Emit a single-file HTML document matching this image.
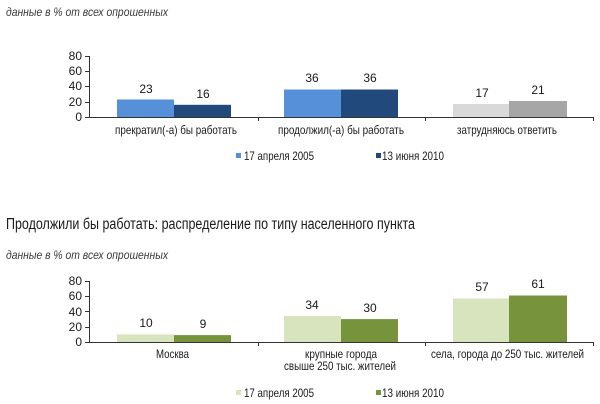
<!DOCTYPE html>
<html><head><meta charset="utf-8"><style>
html,body{margin:0;padding:0;background:#fff;}
svg{display:block;}
text{font-family:"Liberation Sans","DejaVu Sans",sans-serif;fill:#1a1a1a;}
.t{font-size:12px;}
.n{font-size:12px;}
.it{font-size:12px;font-style:italic;fill:#3a3a3a;}
</style></head><body>
<svg width="600" height="404" viewBox="0 0 600 404" xmlns="http://www.w3.org/2000/svg">
<!-- top subtitle -->
<text class="it" x="6" y="16" textLength="162" lengthAdjust="spacingAndGlyphs">данные в % от всех опрошенных</text>

<!-- top chart -->
<text x="82" y="60" text-anchor="end" class="n">80</text>
<text x="82" y="75" text-anchor="end" class="n">60</text>
<text x="82" y="90" text-anchor="end" class="n">40</text>
<text x="82" y="106" text-anchor="end" class="n">20</text>
<text x="82" y="121" text-anchor="end" class="n">0</text>
<g stroke="#333" stroke-width="1">
<line x1="89.5" y1="56" x2="89.5" y2="117"/>
<line x1="85" y1="56.5" x2="89.5" y2="56.5"/>
<line x1="85" y1="71.5" x2="89.5" y2="71.5"/>
<line x1="85" y1="86.5" x2="89.5" y2="86.5"/>
<line x1="85" y1="102.5" x2="89.5" y2="102.5"/>
<line x1="85" y1="117.5" x2="593" y2="117.5"/>
<line x1="258.5" y1="117" x2="258.5" y2="121"/>
<line x1="425.5" y1="117" x2="425.5" y2="121"/>
<line x1="593.5" y1="117" x2="593.5" y2="121"/>
</g>
<rect x="117" y="99.5" width="57" height="17.5" fill="#5590d8"/>
<rect x="174" y="104.8" width="57" height="12.2" fill="#22497c"/>
<rect x="284" y="89.5" width="57" height="27.5" fill="#5590d8"/>
<rect x="341" y="89.5" width="57" height="27.5" fill="#22497c"/>
<rect x="453" y="104" width="56" height="13" fill="#d9d9d9"/>
<rect x="509" y="101" width="58" height="16" fill="#a6a6a6"/>
<text class="n" x="146" y="93" text-anchor="middle">23</text>
<text class="n" x="203" y="98" text-anchor="middle">16</text>
<text class="n" x="312" y="82" text-anchor="middle">36</text>
<text class="n" x="370" y="82" text-anchor="middle">36</text>
<text class="n" x="482" y="97" text-anchor="middle">17</text>
<text class="n" x="538" y="94" text-anchor="middle">21</text>
<text class="t" x="115" y="134" textLength="122" lengthAdjust="spacingAndGlyphs">прекратил(-а) бы работать</text>
<text class="t" x="278" y="134" textLength="126" lengthAdjust="spacingAndGlyphs">продолжил(-а) бы работать</text>
<text class="t" x="457" y="134" textLength="100" lengthAdjust="spacingAndGlyphs">затрудняюсь ответить</text>
<rect x="236" y="153" width="5" height="5" fill="#5590d8"/>
<text class="t" x="244" y="160" textLength="70" lengthAdjust="spacingAndGlyphs">17 апреля 2005</text>
<rect x="376" y="153" width="5" height="5" fill="#22497c"/>
<text class="t" x="382" y="160" textLength="62" lengthAdjust="spacingAndGlyphs">13 июня 2010</text>

<!-- title -->
<text x="6" y="229" style="font-size:15.5px" textLength="409" lengthAdjust="spacingAndGlyphs">Продолжили бы работать: распределение по типу населенного пункта</text>
<text class="it" x="6" y="259" textLength="162" lengthAdjust="spacingAndGlyphs">данные в % от всех опрошенных</text>

<!-- bottom chart -->
<text x="82" y="285" text-anchor="end" class="n">80</text>
<text x="82" y="300" text-anchor="end" class="n">60</text>
<text x="82" y="316" text-anchor="end" class="n">40</text>
<text x="82" y="331" text-anchor="end" class="n">20</text>
<text x="82" y="346" text-anchor="end" class="n">0</text>
<g stroke="#333" stroke-width="1">
<line x1="89.5" y1="281" x2="89.5" y2="342"/>
<line x1="85" y1="281.5" x2="89.5" y2="281.5"/>
<line x1="85" y1="296.5" x2="89.5" y2="296.5"/>
<line x1="85" y1="311.5" x2="89.5" y2="311.5"/>
<line x1="85" y1="327.5" x2="89.5" y2="327.5"/>
<line x1="85" y1="342.5" x2="593" y2="342.5"/>
<line x1="258.5" y1="342" x2="258.5" y2="346"/>
<line x1="425.5" y1="342" x2="425.5" y2="346"/>
<line x1="593.5" y1="342" x2="593.5" y2="346"/>
</g>
<rect x="117" y="334.4" width="57" height="7.6" fill="#d7e4bd"/>
<rect x="174" y="335.1" width="57" height="6.9" fill="#77933c"/>
<rect x="284" y="316.1" width="57" height="25.9" fill="#d7e4bd"/>
<rect x="341" y="319.1" width="57" height="22.9" fill="#77933c"/>
<rect x="453" y="298.5" width="56" height="43.5" fill="#d7e4bd"/>
<rect x="509" y="295.5" width="58" height="46.5" fill="#77933c"/>
<text class="n" x="146" y="327" text-anchor="middle">10</text>
<text class="n" x="203" y="328" text-anchor="middle">9</text>
<text class="n" x="312" y="309" text-anchor="middle">34</text>
<text class="n" x="370" y="312" text-anchor="middle">30</text>
<text class="n" x="482" y="291" text-anchor="middle">57</text>
<text class="n" x="538" y="288" text-anchor="middle">61</text>
<text class="t" x="156" y="358" textLength="33" lengthAdjust="spacingAndGlyphs">Москва</text>
<text class="t" x="305" y="358" textLength="72" lengthAdjust="spacingAndGlyphs">крупные города</text>
<text class="t" x="284" y="370" textLength="112" lengthAdjust="spacingAndGlyphs">свыше 250 тыс. жителей</text>
<text class="t" x="431" y="358" textLength="153" lengthAdjust="spacingAndGlyphs">села, города до 250 тыс. жителей</text>
<rect x="236" y="390" width="5" height="5" fill="#d7e4bd"/>
<text class="t" x="244" y="397" textLength="70" lengthAdjust="spacingAndGlyphs">17 апреля 2005</text>
<rect x="376" y="390" width="5" height="5" fill="#77933c"/>
<text class="t" x="382" y="397" textLength="62" lengthAdjust="spacingAndGlyphs">13 июня 2010</text>
</svg>
</body></html>
